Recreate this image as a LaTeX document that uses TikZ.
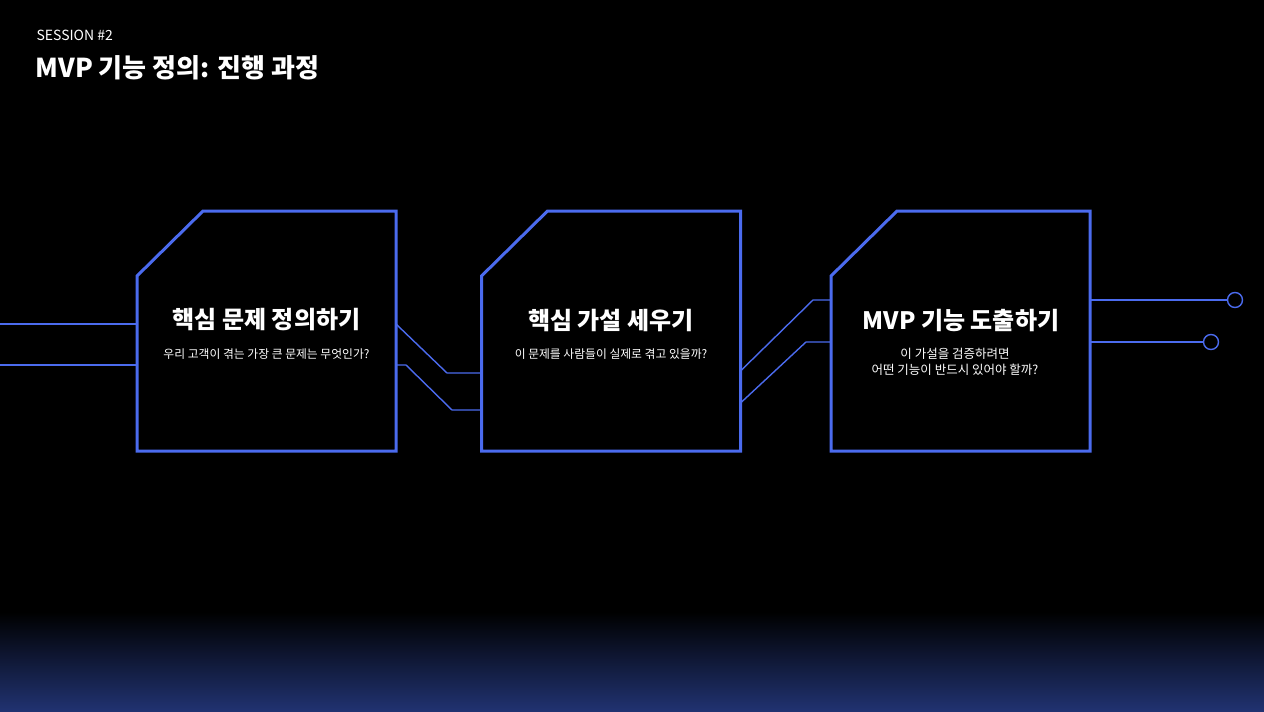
\documentclass[tikz,border=0pt]{standalone}
\usepackage{fontspec}
\setmainfont{Noto Sans CJK KR}
\usetikzlibrary{calc}
\definecolor{flowblue}{HTML}{4B6BEE}
\definecolor{deepnavy}{HTML}{213372}
\begin{document}
\begin{tikzpicture}[x=1pt, y=-1pt,
	stagebox/.style={minimum width=259pt, minimum height=240pt, inner sep=0pt, outer sep=0pt},
	outline/.style={draw=flowblue, line width=3pt, line join=miter},
	wire/.style={draw=flowblue, line width=1.4pt},
	pin/.style={circle, draw=flowblue, line width=1.4pt, minimum size=15pt, inner sep=0pt},
	heading/.style={text=white, font=\fontsize{24}{28}\selectfont\bfseries},
	question/.style={text=white, font=\fontsize{11.8}{16}\selectfont, align=center}]
	% background
	\fill[black] (0,0) rectangle (1264,712);
	\shade[top color=black, bottom color=deepnavy] (0,612) rectangle (1264,712);
	\useasboundingbox (0,0) rectangle (1264,712);
	% header
	\node[anchor=west, text=white, font=\fontsize{14}{16}\selectfont] (session) at (33,35) {SESSION \#2};
	\node[anchor=west, text=white, font=\fontsize{26}{30}\selectfont\bfseries] (title) at (32,68) {MVP 기능 정의: 진행 과정};
	% stages
	\node[stagebox] (define) at (266.5,331) {};
	\node[stagebox] (hypo) at (611,331) {};
	\node[stagebox] (feature) at (960.5,331) {};
	\foreach \s in {define,hypo,feature}
		\draw[outline] (\s.south west) -- ($(\s.north west)+(0,65)$) -- ($(\s.north west)+(66,0)$)
			-- (\s.north east) -- (\s.south east) -- cycle;
	\node[heading] (defineT) at (266.5,320) {핵심 문제 정의하기};
	\node[question] (defineQ) at (266.5,354) {우리 고객이 겪는 가장 큰 문제는 무엇인가?};
	\node[heading] (hypoT) at (611,321) {핵심 가설 세우기};
	\node[question] (hypoQ) at (611,354) {이 문제를 사람들이 실제로 겪고 있을까?};
	\node[heading] (featureT) at (961,321) {MVP 기능 도출하기};
	\node[question, font=\fontsize{12.5}{16}\selectfont] (featureQ) at (955,362) {이 가설을 검증하려면\\어떤 기능이 반드시 있어야 할까?};
	% wires
	\coordinate (inA) at (0,324);
	\coordinate (inB) at (0,365);
	\draw[wire] (inA) -- (define.west |- inA);
	\draw[wire] (inB) -- (define.west |- inB);
	\draw[wire] (define.east |- 0,324) -- (447,373) -- (hypo.west |- 0,373);
	\draw[wire] (define.east |- 0,365) -- (406,365) -- (452,410) -- (hypo.west |- 0,410);
	\draw[wire] (hypo.east |- 0,371) -- (813,300) -- (feature.west |- 0,300);
	\draw[wire] (hypo.east |- 0,403) -- (806,342) -- (feature.west |- 0,342);
	\node[pin] (outA) at (1235,300) {};
	\node[pin] (outB) at (1211,342) {};
	\draw[wire] (feature.east |- outA) -- (outA);
	\draw[wire] (feature.east |- outB) -- (outB);
\end{tikzpicture}
\end{document}
